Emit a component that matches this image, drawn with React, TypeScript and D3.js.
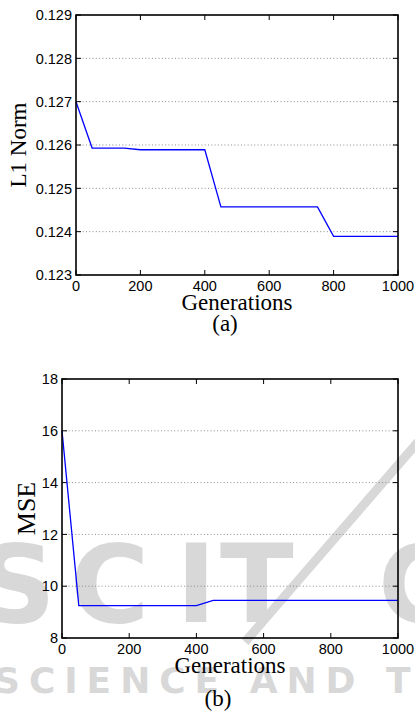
import React from 'react';
import * as d3 from 'd3';

// (a) L1 norm over generations
const genA = [0, 50, 150, 200, 400, 450, 750, 800, 1000];
const l1Norm = [0.127, 0.12593, 0.12593, 0.12589, 0.12589, 0.12457, 0.12457, 0.12389, 0.12389];
const yTicksA = [0.123, 0.124, 0.125, 0.126, 0.127, 0.128, 0.129];

// (b) MSE over generations
const genB = [0, 50, 400, 450, 1000];
const mse = [16, 9.25, 9.25, 9.45, 9.45];
const yTicksB = [8, 10, 12, 14, 16, 18];

const xTicks = [0, 200, 400, 600, 800, 1000];

const SANS = '"Liberation Sans", Arial, sans-serif';
const SERIF = '"Liberation Serif", "Times New Roman", serif';
const WM = '#d8d8d8';

type PanelProps = {
  xs: number[];
  ys: number[];
  yTicks: number[];
  yFmt: (v: number) => string;
  box: { left: number; right: number; top: number; bottom: number };
  yLabel: string;
  yLabelX: number;
  yLabelSize: number;
  caption: string;
  captionY: number;
};

const Panel = ({ xs, ys, yTicks, yFmt, box, yLabel, yLabelX, yLabelSize, caption, captionY }: PanelProps) => {
  const x = d3.scaleLinear().domain([0, 1000]).range([box.left, box.right]);
  const y = d3.scaleLinear().domain(d3.extent(yTicks) as [number, number]).range([box.bottom, box.top]);
  const line = d3.line<number>().x((_, i) => x(xs[i])).y(d => y(d));
  const midY = (box.top + box.bottom) / 2;
  const midX = (box.left + box.right) / 2;

  return (
    <g>
      {/* grid */}
      {yTicks.slice(1, -1).map(t => (
        <line key={'g' + t} x1={box.left} x2={box.right} y1={y(t)} y2={y(t)}
          stroke="#8a8a8a" strokeWidth={1} strokeDasharray="1 2.3" />
      ))}
      {/* ticks */}
      {yTicks.map(t => (
        <g key={'yt' + t}>
          <line x1={box.left} x2={box.left + 5} y1={y(t)} y2={y(t)} stroke="#000" />
          <line x1={box.right} x2={box.right - 5} y1={y(t)} y2={y(t)} stroke="#000" />
          <text x={box.left - 4} y={y(t)} dy="0.36em" textAnchor="end"
            fontFamily={SANS} fontSize={14.5}>{yFmt(t)}</text>
        </g>
      ))}
      {xTicks.map(t => (
        <g key={'xt' + t}>
          <line x1={x(t)} x2={x(t)} y1={box.bottom} y2={box.bottom - 5} stroke="#000" />
          <line x1={x(t)} x2={x(t)} y1={box.top} y2={box.top + 5} stroke="#000" />
          <text x={x(t)} y={box.bottom + 16} textAnchor="middle"
            fontFamily={SANS} fontSize={14.5}>{t}</text>
        </g>
      ))}
      <path d={line(ys) || ''} fill="none" stroke="#0000ff" strokeWidth={1.3} />
      <rect x={box.left} y={box.top} width={box.right - box.left} height={box.bottom - box.top}
        fill="none" stroke="#000" strokeWidth={1.6} />
      <text x={midX} y={box.bottom + 35} textAnchor="middle" fontFamily={SERIF} fontSize={23}>Generations</text>
      <text transform={`translate(${yLabelX},${midY}) rotate(-90)`} textAnchor="middle"
        fontFamily={SERIF} fontSize={yLabelSize}>{yLabel}</text>
      <text x={midX - 12} y={captionY} textAnchor="middle" fontFamily={SERIF} fontSize={23}>{caption}</text>
    </g>
  );
};

const Watermark = () => (
  <g fill={WM} fontFamily='"DejaVu Sans", sans-serif' fontWeight="bold">
    <line x1={430} y1={428} x2={245} y2={642} stroke={WM} strokeWidth={9} />
    <text x={-22} y={622} fontSize={108}>S</text>
    <text x={70} y={622} fontSize={108}>C</text>
    <text x={176} y={622} fontSize={108}>I</text>
    <text x={220} y={622} fontSize={108}>T</text>
    <text x={378} y={622} fontSize={108}>C</text>
    <text x={-6} y={693} fontSize={36} textLength={450} lengthAdjust="spacing">SCIENCE AND TE</text>
  </g>
);

export default function App() {
  return (
    <svg width={415} height={716} style={{ position: 'absolute', left: 0, top: 0, background: '#fff' }}>
      <rect width={415} height={716} fill="#fff" />
      <Watermark />
      <Panel xs={genA} ys={l1Norm} yTicks={yTicksA} yFmt={d3.format('.3f')}
        box={{ left: 76, right: 398, top: 15, bottom: 275 }}
        yLabel="L1 Norm" yLabelX={26} yLabelSize={23} caption="(a)" captionY={331} />
      <Panel xs={genB} ys={mse} yTicks={yTicksB} yFmt={d3.format('d')}
        box={{ left: 62, right: 398, top: 379, bottom: 638 }}
        yLabel="MSE" yLabelX={35} yLabelSize={26} caption="(b)" captionY={706} />
    </svg>
  );
}
